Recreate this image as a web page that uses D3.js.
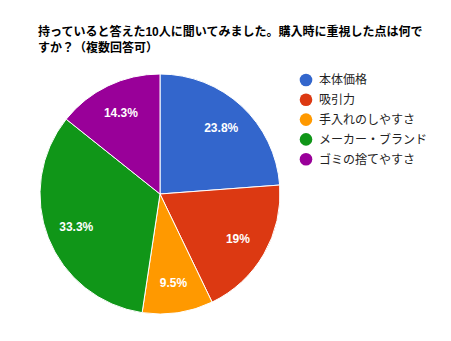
<!DOCTYPE html>
<html>
<head>
<meta charset="utf-8">
<script src="https://cdn.jsdelivr.net/npm/d3@7"></script>
<style>
  html, body { margin: 0; padding: 0; background: #fff; }
  svg { display: block; }
</style>
</head>
<body>
<svg id="chart" width="451" height="341"></svg>
<script>
// Survey answers (multiple choice), counted responses
const categories = ["本体価格", "吸引力", "手入れのしやすさ", "メーカー・ブランド", "ゴミの捨てやすさ"];
const counts = [5, 4, 2, 7, 3];
const labels = ["23.8%", "19%", "9.5%", "33.3%", "14.3%"];
const colors = ["#3366cc", "#dc3912", "#ff9900", "#109618", "#990099"];
const titleLines = ["持っていると答えた10人に聞いてみました。購入時に重視した点は何で", "すか？（複数回答可）"];

const svg = d3.select("#chart");
const font = "'Liberation Sans', Arial, 'Noto Sans CJK JP', sans-serif";

// Title
svg.append("g")
  .selectAll("text")
  .data(titleLines)
  .join("text")
  .attr("x", 38)
  .attr("y", (d, i) => 36 + i * 16)
  .attr("font-family", font)
  .attr("font-size", 12)
  .attr("font-weight", "bold")
  .attr("fill", "#000")
  .text(d => d);

// Pie
const cx = 160, cy = 194, r = 120;
const pie = d3.pie().sort(null).value(d => d.v);
const arcs = pie(categories.map((c, i) => ({ c, v: counts[i], label: labels[i], color: colors[i] })));
const arc = d3.arc().innerRadius(0).outerRadius(r);
const labelArc = d3.arc().innerRadius(r * 0.75).outerRadius(r * 0.75);

const g = svg.append("g").attr("transform", `translate(${cx},${cy})`);
g.selectAll("path")
  .data(arcs)
  .join("path")
  .attr("d", arc)
  .attr("fill", d => d.data.color)
  .attr("stroke", "#fff")
  .attr("stroke-width", 1);

g.selectAll("text")
  .data(arcs)
  .join("text")
  .attr("transform", d => `translate(${labelArc.centroid(d)})`)
  .attr("text-anchor", "middle")
  .attr("dy", "0.36em")
  .attr("font-family", font)
  .attr("font-size", 12)
  .attr("font-weight", "bold")
  .attr("fill", "#fff")
  .text(d => d.data.label);

// Legend
const legend = svg.append("g").attr("transform", "translate(306,80)");
const item = legend.selectAll("g")
  .data(categories)
  .join("g")
  .attr("transform", (d, i) => `translate(0,${i * 19.8})`);
item.append("circle")
  .attr("r", 6.3)
  .attr("fill", (d, i) => colors[i]);
item.append("text")
  .attr("x", 13)
  .attr("dy", "0.36em")
  .attr("font-family", font)
  .attr("font-size", 12)
  .attr("fill", "#222")
  .text(d => d);
</script>
</body>
</html>
